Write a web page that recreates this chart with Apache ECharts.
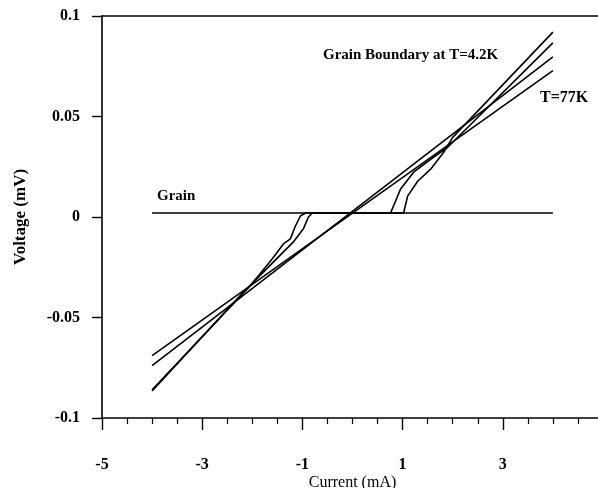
<!DOCTYPE html>
<html>
<head>
<meta charset="utf-8">
<script src="https://cdn.jsdelivr.net/npm/echarts@6/dist/echarts.min.js"></script>
<style>
html,body{margin:0;padding:0;background:#fff;}
#chart{width:598px;height:488px;}
</style>
</head>
<body>
<div id="chart"></div>
<script>
// ---- data (Current in mA, Voltage in mV) ----
var grainX = [-4, 4];
var grainY = [0.002, 0.002];

var ohmicAX = [-4, 4];
var ohmicAY = [-0.069, 0.0728];

var ohmicBX = [-4, 4];
var ohmicBY = [-0.074, 0.0797];

var gbAX = [-4, -2.04, -1.60, -1.38, -1.24, -1.14, -1.04, -0.94, 0.76, 0.96, 1.22, 1.56, 1.90, 4];
var gbAY = [-0.086, -0.0342, -0.0208, -0.0134, -0.0109, -0.0045, 0.0005, 0.002, 0.002, 0.0139, 0.0223, 0.0287, 0.0347, 0.0866];

var gbBX = [-4, -2.2, -1.18, -0.98, -0.88, -0.80, 1.02, 1.10, 1.30, 1.56, 1.82, 2.0, 4];
var gbBY = [-0.0865, -0.038, -0.0124, -0.0059, 0.0, 0.002, 0.002, 0.0104, 0.0178, 0.0238, 0.0322, 0.0396, 0.092];

var xTickLabels = ['-5', '-3', '-1', '1', '3', '5'];
var yTickLabels = ['-0.1', '-0.05', '0', '0.05', '0.1'];

function pairs(xs, ys) { return xs.map(function (x, i) { return [x, ys[i]]; }); }

var serifFont = '"Liberation Serif", "DejaVu Serif", serif';

function lineSeries(name, xs, ys) {
  return {
    name: name, type: 'line', data: pairs(xs, ys),
    showSymbol: false, symbol: 'none', silent: true,
    lineStyle: { color: '#000', width: 1.6 },
    xAxisIndex: 0, yAxisIndex: 0
  };
}

var chart = echarts.init(document.getElementById('chart'), null, { renderer: 'canvas' });
chart.setOption({
  animation: false,
  backgroundColor: '#fff',
  grid: { left: 102, width: 501, top: 16, bottom: 70, containLabel: false, outerBoundsMode: 'none' },
  xAxis: [{
    type: 'value', min: -5, max: 5, interval: 2,
    name: 'Current (mA)', nameLocation: 'middle', nameGap: 57, nameMoveOverlap: false,
    nameTextStyle: { color: '#000', fontFamily: serifFont, fontSize: 16 },
    axisLine: { show: true, onZero: false, lineStyle: { color: '#000', width: 1.6 } },
    axisTick: { show: true, inside: false, length: 12, lineStyle: { color: '#000', width: 1.4 } },
    minorTick: { show: true, splitNumber: 4, length: 6, lineStyle: { color: '#000', width: 1.2 } },
    axisLabel: {
      show: true, margin: 39, color: '#000', fontFamily: serifFont, fontWeight: 'bold', fontSize: 16,
      formatter: function (v) { var i = Math.round((v + 5) / 2); return xTickLabels[i] !== undefined ? xTickLabels[i] : ''; }
    },
    splitLine: { show: false }, minorSplitLine: { show: false }
  }, {
    type: 'value', min: -5, max: 5, position: 'top',
    axisLine: { show: true, onZero: false, lineStyle: { color: '#000', width: 1.6 } },
    axisTick: { show: false }, axisLabel: { show: false }, splitLine: { show: false }
  }],
  yAxis: [{
    type: 'value', min: -0.1, max: 0.1, interval: 0.05,
    name: 'Voltage (mV)', nameLocation: 'middle', nameGap: 73, nameRotate: 90, nameMoveOverlap: false,
    nameTextStyle: { color: '#000', fontFamily: serifFont, fontSize: 17, fontWeight: 'bold' },
    axisLine: { show: true, onZero: false, lineStyle: { color: '#000', width: 1.6 } },
    axisTick: { show: true, inside: false, length: 10, lineStyle: { color: '#000', width: 1.4 } },
    axisLabel: {
      show: true, margin: 22, color: '#000', fontFamily: serifFont, fontWeight: 'bold', fontSize: 16,
      formatter: function (v) { var i = Math.round((v + 0.1) / 0.05); return yTickLabels[i]; }
    },
    splitLine: { show: false }
  }],
  graphic: [
    { type: 'text', left: 157, top: 189, style: { text: 'Grain', font: 'bold 15px ' + serifFont, fill: '#000' } },
    { type: 'text', left: 323, top: 48, style: { text: 'Grain Boundary at T=4.2K', font: 'bold 15px ' + serifFont, fill: '#000' } },
    { type: 'text', left: 540, top: 90, style: { text: 'T=77K', font: 'bold 16px ' + serifFont, fill: '#000' } }
  ],
  series: [
    lineSeries('Grain', grainX, grainY),
    lineSeries('Ohmic A', ohmicAX, ohmicAY),
    lineSeries('Ohmic B', ohmicBX, ohmicBY),
    lineSeries('GB A', gbAX, gbAY),
    lineSeries('GB B', gbBX, gbBY)
  ]
});
</script>
</body>
</html>
